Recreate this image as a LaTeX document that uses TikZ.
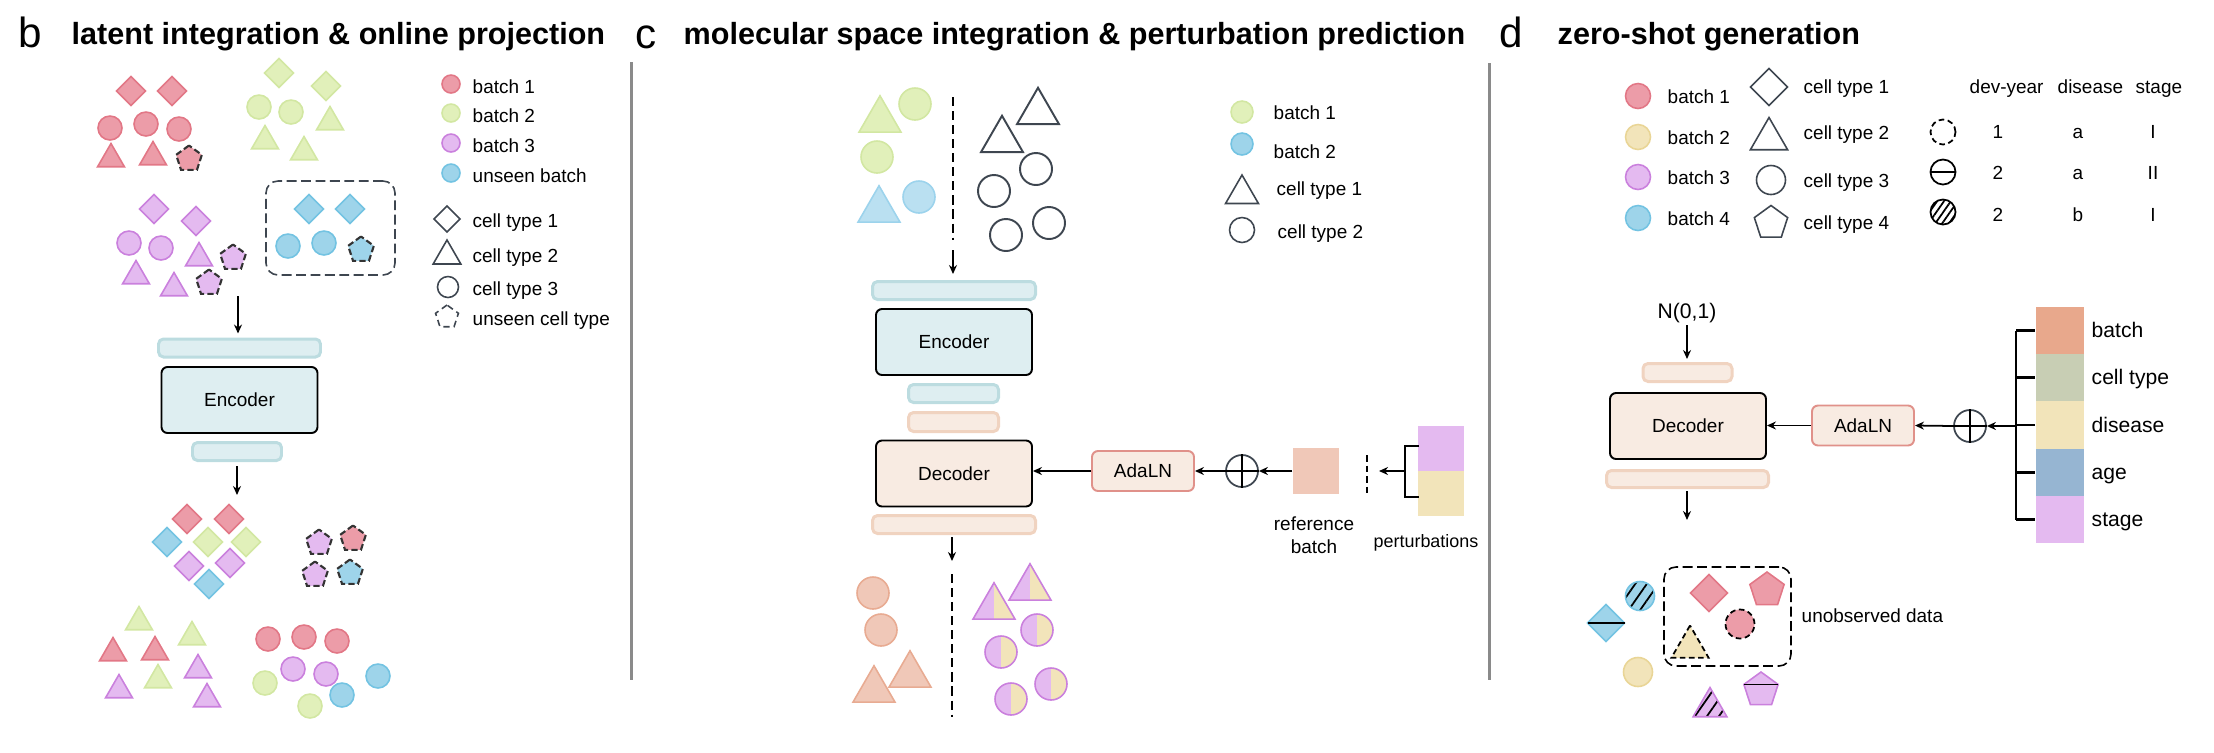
\documentclass[tikz,border=0pt]{standalone}
\usepackage{fontspec}
\setmainfont{Liberation Sans}
\usetikzlibrary{shapes.geometric,arrows.meta,patterns.meta}
\definecolor{redF}{HTML}{EC9CA8}
\definecolor{redD}{HTML}{E27786}
\definecolor{grnF}{HTML}{E1F0BA}
\definecolor{grnD}{HTML}{D2E7A2}
\definecolor{purF}{HTML}{E4BAF0}
\definecolor{purD}{HTML}{CA80DD}
\definecolor{bluF}{HTML}{9ED4EA}
\definecolor{bluD}{HTML}{73C3E2}
\definecolor{lbluF}{HTML}{BAE0F1}
\definecolor{lbluD}{HTML}{9CD3EC}
\definecolor{pchF}{HTML}{F0C8B8}
\definecolor{pchD}{HTML}{E8AB92}
\definecolor{yelF}{HTML}{F2E4BA}
\definecolor{yelD}{HTML}{E9D596}
\definecolor{outl}{HTML}{3E4650}
\definecolor{barBF}{HTML}{DEEEF1}
\definecolor{barBD}{HTML}{BCDCE0}
\definecolor{barPF}{HTML}{F8EBE2}
\definecolor{barPD}{HTML}{F0D3C0}
\definecolor{adaD}{HTML}{E0918A}
\definecolor{stkB}{HTML}{E8A88C}
\definecolor{stkC}{HTML}{C8CEB4}
\definecolor{stkA}{HTML}{96B5D2}
\definecolor{divG}{HTML}{8A8A8A}
\newcommand{\figfont}{\fontsize{5.4}{6.5}\selectfont}
\tikzset{
    cell/.style = {inner sep=0pt, outer sep=0pt, line width=0.45pt},
    dia/.style = {cell, diamond, minimum size=#1},
    dot/.style = {cell, circle, minimum size=#1},
    tri/.style = {cell, regular polygon, regular polygon sides=3, minimum size=#1},
    pent/.style = {cell, regular polygon, regular polygon sides=5, minimum size=#1},
    rcell/.style = {fill=redF, draw=redD},
    gcell/.style = {fill=grnF, draw=grnD},
    pcell/.style = {fill=purF, draw=purD},
    bcell/.style = {fill=bluF, draw=bluD},
    lbcell/.style = {fill=lbluF, draw=lbluD},
    ocell/.style = {fill=pchF, draw=pchD},
    ycell/.style = {fill=yelF, draw=yelD},
    empty/.style = {draw=outl},
    unseen/.style = {draw=black!80, dash pattern=on 1.8pt off 0.9pt, line width=0.6pt},
    dashed ring/.style = {draw=black, dash pattern=on 1.6pt off 1pt, line width=0.5pt},
    split/.style = {fill=purF, draw=purD, path picture={\fill[yelF] (path picture bounding box.north) rectangle (path picture bounding box.south east);}},
    hatch/.style = {path picture={\fill[pattern={Lines[angle=55, distance=#1, line width=0.5pt]}, pattern color=black] (path picture bounding box.south west) rectangle (path picture bounding box.north east);}},
    txt/.style = {font=\figfont, inner sep=0pt, anchor=base west},
    title/.style = {font=\fontsize{8.7}{10}\selectfont\bfseries, inner sep=0pt, anchor=base west},
    panel/.style = {font=\fontsize{12}{14}\selectfont, inner sep=0pt, anchor=base west},
    blue bar/.style = {fill=barBF, draw=barBD, line width=0.85pt, rounded corners=0.5mm, inner sep=0pt},
    peach bar/.style = {fill=barPF, draw=barPD, line width=0.85pt, rounded corners=0.5mm, inner sep=0pt},
    coder/.style = {draw=black, line width=0.55pt, rounded corners=0.6mm, font=\figfont, inner sep=0pt, minimum width=15.6mm, minimum height=6.6mm},
    adaln/.style = {fill=barPF, draw=adaD, line width=0.55pt, rounded corners=0.6mm, font=\figfont, inner sep=0pt, minimum width=10.2mm, minimum height=4mm},
    oplus/.style = {circle, draw=outl, line width=0.5pt, minimum size=3.2mm, inner sep=0pt},
    arr/.style = {-{Stealth[length=0.9mm, width=0.8mm]}, line width=0.5pt},
    brk/.style = {line width=0.6pt},
    cut/.style = {line width=0.5pt, dash pattern=on 2.6pt off 1.4pt},
    divider/.style = {draw=divG, line width=0.85pt},
    group box/.style = {rounded corners=1.2mm, line width=0.45pt, dash pattern=on 2.8pt off 1.3pt}
}

\begin{document}
\begin{tikzpicture}[x=0.1mm, y=-0.1mm]
    \useasboundingbox (0,0) rectangle (2214,752);

    % b
    \node[panel] (b-lab) at (18,47) {b};
    \node[title] (b-ttl) at (71,44) {latent integration \& online projection};
    \draw[divider] (631.5,62) -- (631.5,680);

    \foreach \x/\y [count=\i] in {131/91, 172/91} \node[dia=2.9mm, rcell] (b-rd\i) at (\x,\y) {};
    \foreach \x/\y [count=\i] in {110/128, 146/124, 179/129} \node[dot=2.4mm, rcell] (b-rc\i) at (\x,\y) {};
    \foreach \x/\y [count=\i] in {111/159, 153/157} \node[tri=3.1mm, rcell] (b-rt\i) at (\x,\y) {};
    \node[pent=2.7mm, fill=redF, unseen] (b-rp) at (189,159) {};
    \foreach \x/\y [count=\i] in {279/73, 326/86} \node[dia=2.9mm, gcell] (b-gd\i) at (\x,\y) {};
    \foreach \x/\y [count=\i] in {259/107, 291/112} \node[dot=2.4mm, gcell] (b-gc\i) at (\x,\y) {};
    \foreach \x/\y [count=\i] in {330/122, 265/141, 304/152} \node[tri=3.1mm, gcell] (b-gt\i) at (\x,\y) {};
    \foreach \x/\y [count=\i] in {154/209, 196/221} \node[dia=2.9mm, pcell] (b-pd\i) at (\x,\y) {};
    \foreach \x/\y [count=\i] in {129/243, 161/248} \node[dot=2.4mm, pcell] (b-pc\i) at (\x,\y) {};
    \foreach \x/\y [count=\i] in {199/258, 136/276, 174/288} \node[tri=3.1mm, pcell] (b-pt\i) at (\x,\y) {};
    \foreach \x/\y [count=\i] in {233/258, 209/283} \node[pent=2.7mm, fill=purF, unseen] (b-pp\i) at (\x,\y) {};

    \node[draw=outl, group box, minimum width=12.9mm, minimum height=9.4mm] (b-new) at (330.5,228) {};
    \foreach \x/\y [count=\i] in {309/209, 350/209} \node[dia=2.9mm, bcell] (b-bd\i) at (\x,\y) {};
    \foreach \x/\y [count=\i] in {288/246, 324/243} \node[dot=2.4mm, bcell] (b-bc\i) at (\x,\y) {};
    \node[pent=2.7mm, fill=bluF, unseen] (b-bp) at (361,250) {};

    \foreach \c/\y/\t [count=\i] in {rcell/84/batch 1, gcell/113/batch 2, pcell/143/batch 3, bcell/173/unseen batch} {
        \node[dot=1.8mm, \c] (b-key\i) at (451,\y) {};
        \node[txt] (b-keyt\i) at (472,\y+9) {\t};
    }
    \node[dia=2.6mm, empty] (b-ct1) at (447,219) {};
    \node[tri=3.2mm, empty] (b-ct2) at (447,256) {};
    \node[dot=2.1mm, empty] (b-ct3) at (448,287) {};
    \node[pent=2.4mm, draw=outl, dash pattern=on 1.8pt off 1.2pt, line width=0.45pt] (b-ct4) at (447,317) {};
    \foreach \y/\t [count=\i] in {227/cell type 1, 262/cell type 2, 295/cell type 3, 325/unseen cell type} \node[txt] (b-ctt\i) at (472,\y) {\t};

    \coordinate (b-src) at (238,296);
    \node[blue bar, minimum width=16.2mm, minimum height=1.8mm] (b-inbar) at (239.5,348) {};
    \node[coder, fill=barBF] (b-enc) at (239.5,400) {Encoder};
    \node[blue bar, minimum width=8.9mm, minimum height=1.8mm] (b-outbar) at (237,451.5) {};
    \coordinate (b-dst) at (237,495);
    \draw[arr, shorten >=0.4mm] (b-src) -- (b-inbar.north -| b-src);
    \draw[arr, shorten <=0.4mm] (b-outbar.south -| b-dst) -- (b-dst);

    \foreach \x/\y/\c [count=\i] in {187/519/rcell, 229/519/rcell, 167/542/bcell, 208/542/gcell, 246/542/gcell, 189/566/pcell, 230/563/pcell, 209/584/bcell} \node[dia=2.9mm, \c] (b-zd\i) at (\x,\y) {};
    \foreach \x/\y/\f [count=\i] in {319/543/purF, 353/539/redF, 315/575/purF, 350/573/bluF} \node[pent=2.7mm, fill=\f, unseen] (b-zp\i) at (\x,\y) {};
    \foreach \x/\y/\c [count=\i] in {139/622/gcell, 192/637/gcell, 158/680/gcell, 113/653/rcell, 155/652/rcell, 198/670/pcell, 119/690/pcell, 207/699/pcell} \node[tri=3.1mm, \c] (b-zt\i) at (\x,\y) {};
    \foreach \x/\y/\c [count=\i] in {268/639/rcell, 304/637/rcell, 337/641/rcell, 293/669/pcell, 326/674/pcell, 265/683/gcell, 310/706/gcell, 378/676/bcell, 342/695/bcell} \node[dot=2.4mm, \c] (b-zc\i) at (\x,\y) {};

    % c
    \node[panel] (c-lab) at (635,48) {c};
    \node[title] (c-ttl) at (683,44) {molecular space integration \& perturbation prediction};
    \draw[divider] (1489.5,63) -- (1489.5,680);

    \node[tri=4.85mm, gcell] (c-gt) at (880,120) {};
    \node[dot=3.2mm, gcell] (c-gc1) at (915,104) {};
    \node[dot=3.2mm, gcell] (c-gc2) at (877,157) {};
    \node[tri=4.85mm, lbcell] (c-bt) at (879,210) {};
    \node[dot=3.2mm, lbcell] (c-bc) at (919,197) {};
    \foreach \x/\y [count=\i] in {1038/112, 1002/140} \node[tri=4.85mm, empty, line width=0.55pt] (c-et\i) at (\x,\y) {};
    \foreach \x/\y [count=\i] in {1036/169, 994/191, 1049/223, 1006/235} \node[dot=3.2mm, empty, line width=0.55pt] (c-ec\i) at (\x,\y) {};

    \node[dot=2.2mm, gcell] (c-key1) at (1242,112) {};
    \node[dot=2.2mm, bcell] (c-key2) at (1242,144) {};
    \node[tri=3.8mm, empty] (c-key3) at (1242,194) {};
    \node[dot=2.5mm, empty] (c-key4) at (1242,230) {};
    \node[txt] (c-keyt1) at (1273,119) {batch 1};
    \node[txt] (c-keyt2) at (1273,158) {batch 2};
    \node[txt] (c-keyt3) at (1276,195) {cell type 1};
    \node[txt] (c-keyt4) at (1277,238) {cell type 2};

    \coordinate (c-top) at (953,97);
    \coordinate (c-mid) at (953,240);
    \coordinate (c-src) at (953,250);
    \draw[cut] (c-top) -- (c-mid);
    \node[blue bar, minimum width=16.3mm, minimum height=1.8mm] (c-inbar) at (954,290.5) {};
    \node[coder, fill=barBF] (c-enc) at (954,342) {Encoder};
    \node[blue bar, minimum width=9mm, minimum height=1.8mm] (c-zbar) at (953.5,393.5) {};
    \node[peach bar, minimum width=9mm, minimum height=1.9mm] (c-cbar) at (953.5,422) {};
    \node[coder, fill=barPF] (c-dec) at (954,473.5) {Decoder};
    \node[peach bar, minimum width=16.3mm, minimum height=1.8mm] (c-outbar) at (954,524.5) {};
    \draw[arr, shorten >=0.6mm] (c-src) -- (c-inbar.north -| c-src);
    \coordinate (c-dst) at (952,561);
    \draw[arr, shorten <=0.2mm] (c-outbar.south -| c-dst) -- (c-dst);
    \coordinate (c-bot1) at (952,574);
    \coordinate (c-bot2) at (952,717);
    \draw[cut] (c-bot1) -- (c-bot2);

    \node[adaln] (c-ada) at (1143,471) {AdaLN};
    \node[oplus] (c-op) at (1242,471) {};
    \draw[line width=0.4pt] (c-op.north) -- (c-op.south) (c-op.west) -- (c-op.east);
    \node[fill=pchF, minimum size=4.6mm, inner sep=0pt] (c-ref) at (1316,471) {};
    \node[font=\figfont, inner sep=0pt, anchor=north, align=center] (c-reft) at (1314,516) {reference\\batch};
    \draw[arr] (c-ada.west) -- (c-dec.east |- c-ada.west);
    \draw[arr] (c-op.west) -- (c-ada.east);
    \draw[arr] (c-ref.west) -- (c-op.east);
    \coordinate (c-cut1) at (1367,455);
    \coordinate (c-cut2) at (1367,497);
    \draw[line width=0.5pt, dash pattern=on 1.9pt off 1.1pt] (c-cut1) -- (c-cut2);
    \node[fill=purF, minimum width=4.6mm, minimum height=4.5mm, inner sep=0pt] (c-pt1) at (1441,448.5) {};
    \node[fill=yelF, minimum width=4.6mm, minimum height=4.5mm, inner sep=0pt] (c-pt2) at (1441,493.5) {};
    \coordinate (c-brk) at (1405,471);
    \coordinate (c-tip) at (1379,471);
    \draw[brk] (1419,446) -| (1405,497) -- (1419,497);
    \draw[arr] (c-brk) -- (c-tip);
    \node[txt, font=\fontsize{5.1}{6}\selectfont] (c-ptt) at (1373,547) {perturbations};

    \foreach \x/\y [count=\i] in {873/593, 881/630} \node[dot=3.2mm, ocell] (c-oc\i) at (\x,\y) {};
    \foreach \x/\y [count=\i] in {910/675, 874/690} \node[tri=4.85mm, ocell] (c-ot\i) at (\x,\y) {};
    \foreach \x/\y [count=\i] in {1030/588, 994/607} \node[tri=4.85mm, split] (c-st\i) at (\x,\y) {};
    \foreach \x/\y [count=\i] in {1037/630, 1001/652, 1051/684, 1011/699} \node[dot=3.2mm, split] (c-sc\i) at (\x,\y) {};

    % d
    \node[panel] (d-lab) at (1499,47) {d};
    \node[title] (d-ttl) at (1557,44) {zero-shot generation};

    \foreach \c/\y/\t [count=\i] in {rcell/96/batch 1, ycell/137/batch 2, pcell/177/batch 3, bcell/218/batch 4} {
        \node[dot=2.5mm, \c] (d-key\i) at (1638,\y) {};
        \node[txt] (d-keyt\i) at (1667,\y+7) {\t};
    }
    \node[dia=3.7mm, empty] (d-ct1) at (1769,87) {};
    \node[tri=4.3mm, empty] (d-ct2) at (1769,139) {};
    \node[dot=2.9mm, empty] (d-ct3) at (1771,180) {};
    \node[pent=3.5mm, empty] (d-ct4) at (1771,223) {};
    \foreach \y/\t [count=\i] in {93/cell type 1, 139/cell type 2, 187/cell type 3, 229/cell type 4} \node[txt] (d-ctt\i) at (1803,\y) {\t};

    \node[txt] (d-h1) at (1969,93) {dev-year};
    \node[txt] (d-h2) at (2057,93) {disease};
    \node[txt] (d-h3) at (2135,93) {stage};
    \node[dot=2.5mm, dashed ring] (d-m1) at (1943,132) {};
    \node[dot=2.5mm, draw=black, line width=0.5pt] (d-m2) at (1943,172) {};
    \draw[line width=0.45pt] (d-m2.west) -- (d-m2.east);
    \node[dot=2.5mm, draw=black, line width=0.5pt, hatch=1.6pt] (d-m3) at (1943,212) {};
    \foreach \v/\x/\y [count=\i] in {1/1998/138, a/2078/138, I/2153/138, 2/1998/179, a/2078/179, II/2153/179, 2/1998/221, b/2078/221, I/2153/221}
        \node[font=\figfont, inner sep=0pt, anchor=base] (d-v\i) at (\x,\y) {\v};

    \node[font=\fontsize{6}{7}\selectfont, inner sep=0pt, anchor=base] (d-noise) at (1687,318) {N(0,1)};
    \coordinate (d-src) at (1687,325);
    \node[peach bar, minimum width=8.9mm, minimum height=1.8mm] (d-inbar) at (1687.5,372.5) {};
    \node[coder, fill=barPF] (d-dec) at (1688,426) {Decoder};
    \node[peach bar, minimum width=16.2mm, minimum height=1.7mm] (d-outbar) at (1687.5,479) {};
    \coordinate (d-dst) at (1687,520);
    \draw[arr, shorten >=0.3mm] (d-src) -- (d-inbar.north -| d-src);
    \draw[arr, shorten <=0.2mm] (d-outbar.south -| d-dst) -- (d-dst);

    \node[adaln] (d-ada) at (1863,425.5) {AdaLN};
    \node[oplus] (d-op) at (1970,426) {};
    \draw[line width=0.4pt] (d-op.north) -- (d-op.south) (d-op.west) -- (d-op.east);
    \draw[arr] (d-ada.west) -- (d-dec.east |- d-ada.west);
    \draw[arr] (d-op.west) -- (d-ada.east);

    \foreach \f/\y/\t [count=\i] in {stkB/330.5/batch, stkC/377.5/cell type, yelF/425/disease, stkA/472.5/age, purF/519.5/stage} {
        \node[fill=\f, minimum width=4.8mm, minimum height=4.75mm, inner sep=0pt] (d-s\i) at (2060,\y) {};
        \node[txt, font=\fontsize{6}{7}\selectfont] (d-st\i) at (2091,\y+7) {\t};
        \draw[brk] (2016,\y) -- (d-s\i.west);
    }
    \draw[brk] (2016,330.5) -- (2016,519.5);
    \coordinate (d-brk) at (2016,426);
    \draw[arr, line width=0.8pt] (d-brk) -- (d-op.east);

    \node[draw=black, group box, minimum width=12.7mm, minimum height=9.9mm] (d-new) at (1727.5,616.5) {};
    \node[txt] (d-newt) at (1801,622) {unobserved data};
    \node[dia=3.7mm, rcell] (d-rd) at (1709,593) {};
    \node[pent=3.6mm, rcell] (d-rp) at (1767,590) {};
    \node[dot=2.9mm, fill=redF, dashed ring] (d-rc) at (1740,624) {};
    \node[tri=4.3mm, fill=yelF, dashed ring] (d-yt) at (1690,647) {};
    \node[dot=2.9mm, bcell, hatch=2.7pt] (d-bc) at (1640,596) {};
    \node[dia=3.7mm, bcell] (d-bd) at (1606,623) {};
    \draw[line width=0.45pt] (d-bd.west) -- (d-bd.east);
    \node[dot=2.9mm, ycell] (d-yc) at (1638,672) {};
    \node[tri=3.9mm, pcell, hatch=2.8pt] (d-pt) at (1710,707) {};
    \node[pent=3.6mm, pcell] (d-pp) at (1761,690) {};
    \draw[line width=0.45pt] (d-pp.corner 2) -- (d-pp.corner 5);
\end{tikzpicture}
\end{document}
